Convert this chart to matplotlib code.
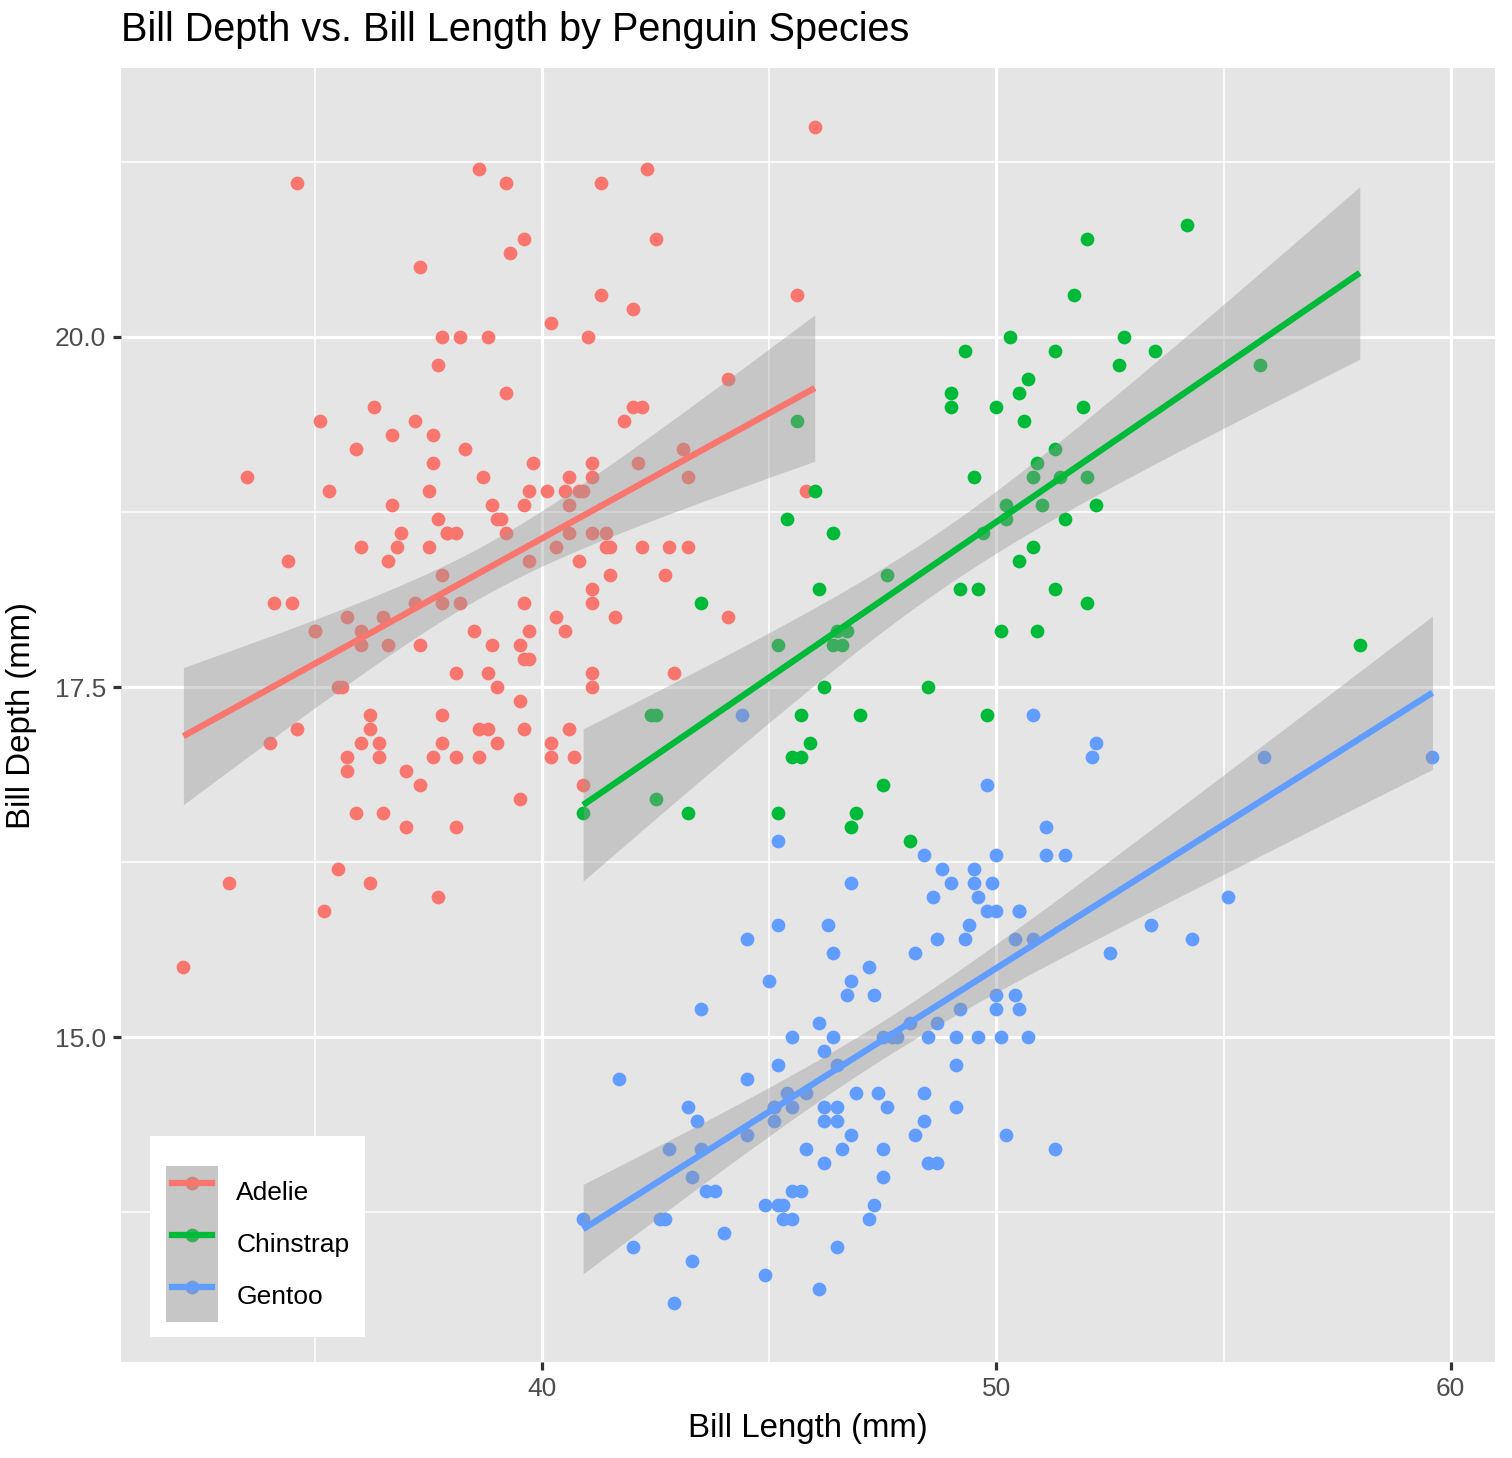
import numpy as np
import matplotlib
matplotlib.use('Agg')
import matplotlib.pyplot as plt
from matplotlib.patches import Patch
from matplotlib.lines import Line2D
from matplotlib.legend_handler import HandlerTuple, HandlerLine2D
from matplotlib.ticker import FixedLocator

plt.rcParams['font.family'] = ['Liberation Sans', 'DejaVu Sans']

# --- datos (bill length / bill depth, mm) ---
adelie_length = [39.1, 39.5, 40.3, 36.7, 39.3, 38.9, 39.2, 34.1, 42.0, 37.8, 37.8, 41.1, 38.6, 34.6, 36.6, 38.7,
                 42.5, 34.4, 46.0, 37.8, 37.7, 35.9, 38.2, 38.8, 35.3, 40.6, 40.5, 37.9, 40.5, 39.5, 37.2, 39.5,
                 40.9, 36.4, 39.2, 38.8, 42.2, 37.6, 39.8, 36.5, 40.8, 36.0, 44.1, 37.0, 39.6, 41.1, 37.5, 36.0,
                 42.3, 39.6, 40.1, 35.0, 42.0, 34.5, 41.4, 39.0, 40.6, 36.5, 37.6, 35.7, 41.3, 37.6, 41.1, 36.4,
                 41.6, 35.5, 41.1, 35.9, 41.8, 33.5, 39.7, 39.6, 45.8, 35.5, 42.8, 40.9, 37.2, 36.2, 42.1, 34.6,
                 42.9, 36.7, 35.1, 37.3, 41.3, 36.3, 36.9, 38.3, 38.9, 35.7, 41.1, 34.0, 39.6, 36.2, 40.8, 38.1,
                 40.3, 33.1, 43.2, 35.0, 41.0, 37.7, 37.8, 37.9, 39.7, 38.6, 38.2, 38.1, 43.2, 38.1, 45.6, 39.7,
                 42.2, 39.6, 42.7, 38.6, 37.3, 35.7, 41.1, 36.2, 37.7, 40.2, 41.4, 35.2, 40.6, 38.8, 41.5, 39.0,
                 44.1, 38.5, 43.1, 36.8, 37.5, 38.1, 41.1, 35.6, 40.2, 37.0, 39.7, 40.2, 40.6, 32.1, 40.7, 37.3,
                 39.0, 39.2, 36.6, 36.0, 37.8, 36.0, 41.5]
adelie_depth = [18.7, 17.4, 18.0, 19.3, 20.6, 17.8, 19.6, 18.1, 20.2, 17.1, 17.3, 17.6, 21.2, 21.1, 17.8, 19.0,
                20.7, 18.4, 21.5, 18.3, 18.7, 19.2, 18.1, 17.2, 18.9, 18.6, 17.9, 18.6, 18.9, 16.7, 18.1, 17.8,
                18.9, 17.0, 21.1, 20.0, 18.5, 19.3, 19.1, 18.0, 18.4, 18.5, 19.7, 16.9, 18.8, 19.0, 18.9, 17.9,
                21.2, 17.7, 18.9, 17.9, 19.5, 18.1, 18.6, 17.5, 18.8, 16.6, 19.1, 16.9, 21.1, 17.0, 18.2, 17.1,
                18.0, 16.2, 19.1, 16.6, 19.4, 19.0, 18.4, 17.2, 18.9, 17.5, 18.5, 16.8, 19.4, 16.1, 19.1, 17.2,
                17.6, 18.8, 19.4, 17.8, 20.3, 19.5, 18.6, 19.2, 18.8, 18.0, 18.1, 17.1, 18.1, 17.3, 18.9, 18.6,
                18.5, 16.1, 18.5, 17.9, 20.0, 16.0, 20.0, 18.6, 18.9, 17.2, 20.0, 17.0, 19.0, 16.5, 20.3, 17.7,
                19.5, 20.7, 18.3, 17.0, 20.5, 17.0, 18.6, 17.2, 19.8, 17.0, 18.5, 15.9, 19.0, 17.6, 18.3, 17.1,
                18.0, 17.9, 19.2, 18.5, 18.5, 17.6, 17.5, 17.5, 20.1, 16.5, 17.9, 17.1, 17.2, 15.5, 17.0, 16.8,
                18.7, 18.6, 18.4, 17.8, 18.1, 17.1, 18.5]

chinstrap_length = [46.5, 50.0, 51.3, 45.4, 52.7, 45.2, 46.1, 51.3, 46.0, 51.3, 46.6, 51.7, 47.0, 52.0, 45.9, 50.5,
                    50.3, 58.0, 46.4, 49.2, 42.4, 48.5, 43.2, 50.6, 46.7, 52.0, 50.5, 49.5, 46.4, 52.8, 40.9, 54.2,
                    42.5, 51.0, 49.7, 47.5, 47.6, 52.0, 46.9, 53.5, 49.0, 46.2, 50.9, 45.5, 50.9, 50.8, 50.1, 49.0,
                    51.5, 49.8, 48.1, 51.4, 45.7, 50.7, 42.5, 52.2, 45.2, 49.3, 50.2, 45.6, 51.9, 46.8, 45.7, 55.8,
                    43.5, 49.6, 50.8, 50.2]
chinstrap_depth = [17.9, 19.5, 19.2, 18.7, 19.8, 17.8, 18.2, 18.2, 18.9, 19.9, 17.8, 20.3, 17.3, 18.1, 17.1, 19.6,
                   20.0, 17.8, 18.6, 18.2, 17.3, 17.5, 16.6, 19.4, 17.9, 19.0, 18.4, 19.0, 17.8, 20.0, 16.6, 20.8,
                   16.7, 18.8, 18.6, 16.8, 18.3, 20.7, 16.6, 19.9, 19.5, 17.5, 19.1, 17.0, 17.9, 18.5, 17.9, 19.6,
                   18.7, 17.3, 16.4, 19.0, 17.3, 19.7, 17.3, 18.8, 16.6, 19.9, 18.8, 19.4, 19.5, 16.5, 17.0, 19.8,
                   18.1, 18.2, 19.0, 18.7]

gentoo_length = [46.1, 50.0, 48.7, 50.0, 47.6, 46.5, 45.4, 46.7, 43.3, 46.8, 40.9, 49.0, 45.5, 48.4, 45.8, 49.3,
                 42.0, 49.2, 46.2, 48.7, 50.2, 45.1, 46.5, 46.3, 42.9, 46.1, 44.5, 47.8, 48.2, 50.0, 47.3, 42.8,
                 45.1, 59.6, 49.1, 48.4, 42.6, 44.4, 44.0, 48.7, 42.7, 49.6, 45.3, 49.6, 50.5, 43.6, 45.5, 50.5,
                 44.9, 45.2, 46.6, 48.5, 45.1, 50.1, 46.5, 45.0, 43.8, 45.5, 43.2, 50.4, 45.3, 46.2, 45.7, 54.3,
                 45.8, 49.8, 46.2, 49.5, 43.5, 50.7, 47.7, 46.4, 48.2, 46.5, 46.4, 48.6, 47.5, 51.1, 45.2, 45.2,
                 49.1, 52.5, 47.4, 50.0, 44.9, 50.8, 43.4, 51.3, 47.5, 52.1, 47.5, 52.2, 45.5, 49.5, 44.5, 50.8,
                 49.4, 46.9, 48.4, 51.1, 48.5, 55.9, 47.2, 49.1, 47.3, 46.8, 41.7, 53.4, 43.3, 48.1, 50.5, 49.8,
                 43.5, 51.5, 46.2, 55.1, 44.5, 48.8, 47.2, 46.8, 50.4, 45.2, 49.9]
gentoo_depth = [13.2, 16.3, 14.1, 15.2, 14.5, 13.5, 14.6, 15.3, 13.4, 15.4, 13.7, 16.1, 13.7, 14.6, 14.6, 15.7,
                13.5, 15.2, 14.5, 15.1, 14.3, 14.5, 14.5, 15.8, 13.1, 15.1, 14.3, 15.0, 14.3, 15.3, 15.3, 14.2,
                14.5, 17.0, 14.8, 16.3, 13.7, 17.3, 13.6, 15.7, 13.7, 16.0, 13.7, 15.0, 15.9, 13.9, 13.9, 15.9,
                13.3, 15.8, 14.2, 14.1, 14.4, 15.0, 14.4, 15.4, 13.9, 15.0, 14.5, 15.3, 13.8, 14.9, 13.9, 15.7,
                14.2, 16.8, 14.4, 16.2, 14.2, 15.0, 15.0, 15.6, 15.6, 14.8, 15.0, 16.0, 14.2, 16.3, 13.8, 16.4,
                14.5, 15.6, 14.6, 15.9, 13.8, 17.3, 14.4, 14.2, 14.0, 17.0, 15.0, 17.1, 14.5, 16.1, 14.7, 15.7,
                15.8, 14.6, 14.4, 16.5, 15.0, 17.0, 15.5, 15.0, 13.8, 16.1, 14.7, 15.8, 14.0, 15.1, 15.2, 15.9,
                15.2, 16.3, 14.1, 16.0, 15.7, 16.2, 13.7, 14.3, 15.7, 14.8, 16.1]

species = ['Adelie', 'Chinstrap', 'Gentoo']
colores = ['#F8766D', '#00BA38', '#619CFF']
datos = {
    'Adelie': (adelie_length, adelie_depth),
    'Chinstrap': (chinstrap_length, chinstrap_depth),
    'Gentoo': (gentoo_length, gentoo_depth),
}

FONDO_PANEL = '#E5E5E5'


def t975(df):
    # aproximacion del cuantil 0.975 de la t de Student
    z = 1.959964
    g1 = (z**3 + z) / 4
    g2 = (5 * z**5 + 16 * z**3 + 3 * z) / 96
    g3 = (3 * z**7 + 19 * z**5 + 17 * z**3 - 15 * z) / 384
    return z + g1 / df + g2 / df**2 + g3 / df**3


def ajuste_lm(x, y, n_grid=80):
    x = np.asarray(x)
    y = np.asarray(y)
    n = len(x)
    xm, ym = x.mean(), y.mean()
    sxx = np.sum((x - xm) ** 2)
    b = np.sum((x - xm) * (y - ym)) / sxx
    a = ym - b * xm
    s2 = np.sum((y - (a + b * x)) ** 2) / (n - 2)
    xg = np.linspace(x.min(), x.max(), n_grid)
    fit = a + b * xg
    se = np.sqrt(s2 * (1.0 / n + (xg - xm) ** 2 / sxx))
    t = t975(n - 2)
    return xg, fit, fit - t * se, fit + t * se


fig = plt.figure(figsize=(7, 6.75), dpi=216)
ax = fig.add_axes([0.0800, 0.0658, 0.9087, 0.8875])
ax.set_facecolor(FONDO_PANEL)
for s in ax.spines.values():
    s.set_visible(False)

# puntos
for sp, col in zip(species, colores):
    x, y = datos[sp]
    ax.scatter(x, y, s=21, color=col, linewidths=0, zorder=3)

# rectas de regresion con IC 95%
for sp, col in zip(species, colores):
    x, y = datos[sp]
    xg, fit, lo, hi = ajuste_lm(x, y)
    ax.fill_between(xg, lo, hi, color='#999999', alpha=0.4, linewidth=0, zorder=4)
    ax.plot(xg, fit, color=col, linewidth=2.1, zorder=5, solid_capstyle='butt')

# limites con expansion del 5%
todos_x = np.concatenate([datos[sp][0] for sp in species])
todos_y = np.concatenate([datos[sp][1] for sp in species])
rx = todos_x.max() - todos_x.min()
ry = todos_y.max() - todos_y.min()
ax.set_xlim(todos_x.min() - 0.05 * rx, todos_x.max() + 0.05 * rx)
ax.set_ylim(todos_y.min() - 0.05 * ry, todos_y.max() + 0.05 * ry)

ax.xaxis.set_major_locator(FixedLocator([40, 50, 60]))
ax.xaxis.set_minor_locator(FixedLocator([35, 45, 55]))
ax.yaxis.set_major_locator(FixedLocator([15.0, 17.5, 20.0]))
ax.yaxis.set_minor_locator(FixedLocator([13.75, 16.25, 18.75, 21.25]))
ax.set_xticklabels(['40', '50', '60'])
ax.set_yticklabels(['15.0', '17.5', '20.0'])

ax.grid(which='major', color='white', linewidth=1.07, zorder=0)
ax.grid(which='minor', color='white', linewidth=0.53, zorder=0)
ax.set_axisbelow(True)
ax.tick_params(which='major', length=2.75, width=1.07, color='#333333',
               labelsize=8.8, labelcolor='#4D4D4D', pad=2.2)
ax.tick_params(which='minor', length=0)

ax.set_xlabel('Bill Length (mm)', fontsize=11, labelpad=4)
ax.set_ylabel('Bill Depth (mm)', fontsize=11, labelpad=6)
ax.set_title('Bill Depth vs. Bill Length by Penguin Species', fontsize=13.2, loc='left', pad=9)

# leyenda
handles = []
mapa = {tuple: HandlerTuple(ndivide=1, pad=0)}
for col in colores:
    fondo = Patch(facecolor=FONDO_PANEL, edgecolor='none')
    punto = Line2D([], [], linestyle='none', marker='o', markersize=4.6, color=col, markeredgewidth=0)
    banda = Patch(facecolor='#999999', alpha=0.4, edgecolor='none')
    linea = Line2D([], [], color=col, linewidth=2.1)
    mapa[linea] = HandlerLine2D(numpoints=2, marker_pad=0.23)
    handles.append((fondo, punto, banda, linea))
leg = ax.legend(handles, species, handler_map=mapa,
                loc='lower left', bbox_to_anchor=(0.021, 0.019), borderaxespad=0,
                fontsize=8.8, frameon=True, fancybox=False, framealpha=1,
                edgecolor='none', facecolor='white', handlelength=1.97, handleheight=2.65,
                labelspacing=0, handletextpad=0.7, borderpad=0.6, title=' ', title_fontsize=5)
leg.set_zorder(10)

plt.savefig('out.png', dpi=216)
plt.close()
